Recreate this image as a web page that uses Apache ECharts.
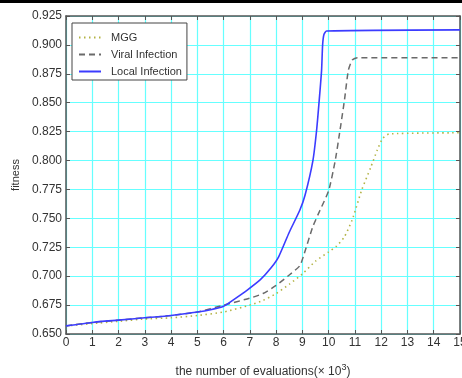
<!DOCTYPE html>
<html>
<head>
<meta charset="utf-8">
<script src="https://cdn.jsdelivr.net/npm/echarts@6/dist/echarts.min.js"></script>
<style>
html,body{margin:0;padding:0;background:#fff;}
#c{width:462px;height:378px;}
</style>
</head>
<body>
<div id="c"></div>
<script>
// ---- data (x in thousands of evaluations) ----
var seriesNames = ['MGG', 'Viral Infection', 'Local Infection'];

var mggX = [0, 1, 2, 3, 4, 5, 6, 7, 7.5, 8, 8.5, 9, 9.5, 10, 10.3, 10.6, 10.9, 11.25, 11.6, 11.85, 12.05, 12.3, 15];
var mggY = [0.657, 0.659, 0.661, 0.663, 0.664, 0.666, 0.669, 0.675, 0.679, 0.685, 0.693, 0.702, 0.713, 0.721, 0.726, 0.734, 0.749, 0.774, 0.794, 0.809, 0.819, 0.823, 0.824];

var viralX = [0, 1, 2, 3, 4, 5, 6, 7, 7.5, 8, 8.5, 8.9, 9.05, 9.4, 9.67, 10.0, 10.25, 10.43, 10.6, 10.75, 10.9, 11.1, 15];
var viralY = [0.657, 0.660, 0.662, 0.664, 0.666, 0.669, 0.675, 0.681, 0.685, 0.692, 0.701, 0.709, 0.718, 0.743, 0.757, 0.774, 0.800, 0.826, 0.852, 0.878, 0.887, 0.889, 0.889];

var localX = [0, 1, 2, 3, 4, 5, 5.5, 6, 6.4, 6.9, 7.4, 7.8, 8.1, 8.5, 8.9, 9.1, 9.4, 9.54, 9.64, 9.73, 9.77, 9.82, 9.92, 15];
var localY = [0.657, 0.660, 0.662, 0.664, 0.666, 0.669, 0.671, 0.674, 0.680, 0.688, 0.697, 0.707, 0.717, 0.738, 0.757, 0.770, 0.800, 0.826, 0.852, 0.878, 0.900, 0.909, 0.912, 0.913];

var xTicks = {min: 0, max: 15, step: 1};
var yTicks = {min: 0.65, max: 0.925, step: 0.025};

function pairs(xs, ys) { return xs.map(function (x, i) { return [x, ys[i]]; }); }

var chart = echarts.init(document.getElementById('c'), null, {renderer: 'canvas'});
var axisColor = '#555';
var labelColor = '#333';
var font = 'Liberation Sans, Arial, sans-serif';

var option = {
  backgroundColor: '#fff',
  animation: false,
  graphic: [{
    type: 'rect', shape: {x: 0, y: 0, width: 462, height: 3}, style: {fill: '#000'}, silent: true
  }],
  grid: {left: 66, top: 16, right: 2, bottom: 44, containLabel: false, outerBoundsMode: 'none'},
  legend: {
    orient: 'vertical', left: 72, top: 23,
    padding: [9, 5, 3, 6],
    itemGap: 6, itemWidth: 22, itemHeight: 12,
    backgroundColor: '#fff', borderColor: '#444', borderWidth: 1,
    itemStyle: {opacity: 0, borderWidth: 0},
    lineStyle: {opacity: 1},
    textStyle: {fontFamily: font, fontSize: 11, color: '#333', padding: [0, 0, 0, 5]},
    data: seriesNames
  },
  xAxis: [{
    type: 'value', min: xTicks.min, max: xTicks.max, interval: xTicks.step,
    position: 'bottom',
    axisLine: {show: true, lineStyle: {color: axisColor, width: 1.5}},
    axisTick: {show: true, inside: true, length: 4, lineStyle: {color: axisColor}},
    axisLabel: {color: labelColor, fontFamily: font, fontSize: 12, margin: 3,
      alignMinLabel: 'center', alignMaxLabel: 'center', hideOverlap: false},
    splitLine: {show: true, lineStyle: {color: '#66ffff', width: 1.2}},
    name: 'the number of evaluations(× 10{sup|3})',
    nameLocation: 'middle', nameGap: 29,
    nameTextStyle: {
      color: labelColor, fontFamily: font, fontSize: 12,
      rich: {sup: {fontSize: 9, fontFamily: font, color: labelColor, verticalAlign: 'top', padding: [0, 0, 8, 0]}}
    }
  }, {
    type: 'value', min: xTicks.min, max: xTicks.max, interval: xTicks.step,
    position: 'top',
    axisLine: {show: true, onZero: false, lineStyle: {color: axisColor, width: 1.5}},
    axisTick: {show: true, inside: true, length: 4, lineStyle: {color: axisColor}},
    axisLabel: {show: false},
    splitLine: {show: false}
  }],
  yAxis: [{
    type: 'value', min: yTicks.min, max: yTicks.max, interval: yTicks.step,
    position: 'left',
    axisLine: {show: true, onZero: false, lineStyle: {color: axisColor, width: 1.5}},
    axisTick: {show: true, inside: true, length: 4, lineStyle: {color: axisColor}},
    axisLabel: {color: labelColor, fontFamily: font, fontSize: 12, margin: 4,
      formatter: function (v) { return v.toFixed(3); }},
    splitLine: {show: true, lineStyle: {color: '#66ffff', width: 1.2}},
    name: 'fitness', nameLocation: 'middle', nameGap: 42,
    nameTextStyle: {color: labelColor, fontFamily: font, fontSize: 11}
  }, {
    type: 'value', min: yTicks.min, max: yTicks.max, interval: yTicks.step,
    position: 'right',
    axisLine: {show: true, onZero: false, lineStyle: {color: axisColor, width: 1.5}},
    axisTick: {show: true, inside: true, length: 4, lineStyle: {color: axisColor}},
    axisLabel: {show: false},
    splitLine: {show: false}
  }],
  series: [{
    name: seriesNames[0], type: 'line', data: pairs(mggX, mggY),
    symbol: 'none', smooth: 0.2,
    lineStyle: {color: '#b3b345', width: 1.6, type: [1.5, 3.5]},
    itemStyle: {color: '#b3b345'}, z: 3
  }, {
    name: seriesNames[1], type: 'line', data: pairs(viralX, viralY),
    symbol: 'none', smooth: 0.2,
    lineStyle: {color: '#6a6a6a', width: 1.5, type: [6, 4]},
    itemStyle: {color: '#6a6a6a'}, z: 4
  }, {
    name: seriesNames[2], type: 'line', data: pairs(localX, localY),
    symbol: 'none', smooth: 0.2,
    lineStyle: {color: '#3c3cff', width: 1.6, type: 'solid'},
    itemStyle: {color: '#3c3cff'}, z: 5
  }]
};
chart.setOption(option);
</script>
</body>
</html>
